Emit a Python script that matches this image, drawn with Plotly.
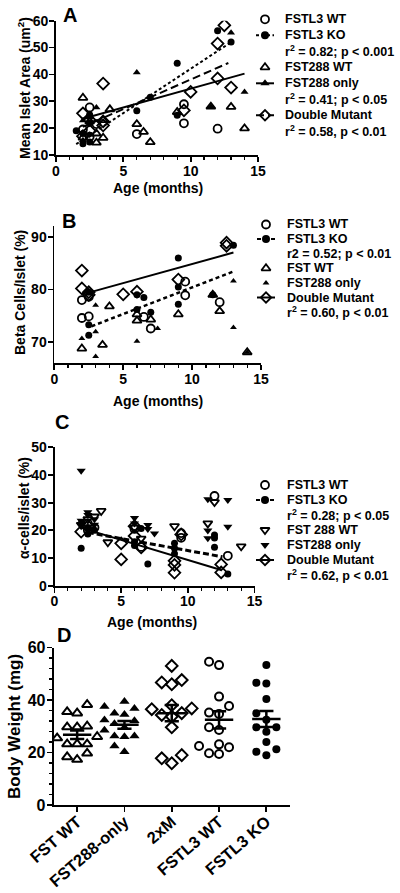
import numpy as np
import plotly.graph_objects as go

FONT = "Liberation Sans, Arial, sans-serif"
W, H = 400, 893

# ---------------- Panel A: mean islet area vs age ----------------
A_fstl3wt_age  = [2.0, 2.5, 2.5, 3.0, 6.0, 9.5, 9.5, 12.0]
A_fstl3wt_area = [19.5, 27.7, 16.8, 21.5, 17.8, 28.9, 21.8, 19.8]
A_fstl3ko_age  = [1.5, 2.0, 2.0, 2.5, 2.5, 2.5, 6.0, 7.0, 9.0, 9.0, 12.0, 13.0]
A_fstl3ko_area = [19.0, 14.2, 18.0, 14.8, 22.0, 25.0, 26.5, 31.5, 44.2, 24.8, 56.3, 52.1]
A_fstwt_age    = [2.0, 2.0, 2.5, 3.0, 3.0, 3.5, 3.5, 4.0, 6.0, 6.5, 7.0, 9.0, 11.5, 13.0, 14.0]
A_fstwt_area   = [31.3, 16.5, 22.5, 18.0, 14.6, 16.4, 23.0, 27.0, 21.5, 18.6, 14.8, 26.0, 28.0, 27.9, 19.9]
A_fst288_age   = [2.0, 2.0, 2.5, 2.5, 3.0, 6.0, 11.5, 13.0, 14.0]
A_fst288_area  = [15.5, 22.8, 24.0, 17.5, 27.7, 40.7, 28.0, 55.5, 33.5]
A_dm_age       = [2.0, 2.0, 2.5, 2.5, 3.5, 3.5, 3.5, 9.5, 10.0, 12.0, 12.0, 12.5, 13.0]
A_dm_area      = [25.5, 17.0, 19.0, 23.0, 36.6, 22.5, 21.0, 26.6, 33.5, 51.5, 38.5, 58.3, 35.1]
# regression fits: (slope, intercept, age from, age to)
A_fit_ko  = (3.3, 9.1, 1.5, 13.0)
A_fit_288 = (1.4, 20.7, 2.0, 14.0)
A_fit_dm  = (2.2, 16.1, 2.0, 12.8)

# ---------------- Panel B: beta cells / islet ----------------
B_fstl3wt_age  = [2.0, 2.0, 2.5, 2.5, 6.5, 7.0, 9.5, 9.5, 12.0]
B_fstl3wt_beta = [78.0, 74.6, 74.9, 78.6, 74.8, 72.6, 81.5, 78.9, 77.6]
B_fstl3ko_age  = [2.5, 2.5, 2.5, 6.0, 6.5, 6.0, 7.0, 9.0, 9.0, 9.0, 11.5, 13.0]
B_fstl3ko_beta = [79.5, 73.3, 71.3, 79.0, 78.5, 76.2, 75.7, 86.0, 80.5, 77.2, 79.0, 88.4]
B_fstwt_age    = [2.0, 3.5, 4.0, 6.0, 6.0, 7.0, 9.0, 11.5, 12.0, 14.0]
B_fstwt_beta   = [68.8, 69.5, 76.8, 75.3, 74.1, 74.3, 75.3, 79.0, 75.9, 68.1]
B_fst288_age   = [2.0, 3.0, 3.0, 3.0, 6.0, 7.5, 11.5, 13.0, 13.0, 14.0]
B_fst288_beta  = [70.7, 77.0, 72.0, 67.3, 70.2, 72.6, 79.0, 81.6, 72.8, 68.1]
B_dm_age       = [2.0, 2.0, 2.5, 2.5, 5.0, 6.0, 9.0, 12.5, 12.5]
B_dm_beta      = [83.6, 80.2, 79.5, 79.0, 79.1, 79.6, 81.9, 88.9, 88.3]
B_fit_dm = (0.724, 77.6, 2.5, 13.0)
B_fit_ko = (1.01, 70.3, 2.7, 13.0)

# ---------------- Panel C: alpha cells / islet ----------------
C_fstl3wt_age   = [2.5, 2.5, 3.0, 6.0, 6.5, 9.5, 9.5, 12.0, 13.0]
C_fstl3wt_alpha = [22.5, 20.0, 21.0, 20.5, 14.0, 19.0, 17.3, 32.4, 10.8]
C_fstl3ko_age   = [2.0, 2.0, 2.5, 2.5, 3.0, 6.0, 6.0, 6.5, 7.0, 9.0, 9.0, 9.0, 12.0, 12.0, 12.0, 13.0]
C_fstl3ko_alpha = [13.5, 22.5, 18.7, 21.0, 20.0, 15.9, 14.5, 20.7, 7.8, 15.3, 13.5, 11.5, 18.3, 13.9, 17.2, 4.2]
C_fstwt_age     = [2.0, 2.5, 3.0, 3.5, 4.0, 6.0, 6.5, 9.0, 11.5, 12.0, 14.0]
C_fstwt_alpha   = [22.0, 24.0, 25.0, 27.0, 15.7, 21.0, 17.0, 21.5, 22.5, 30.2, 14.2]
C_fst288_age    = [2.0, 2.0, 2.5, 2.5, 3.0, 3.0, 6.0, 6.0, 7.0, 7.0, 7.5, 11.5, 11.5, 11.5, 13.0, 13.0]
C_fst288_alpha  = [41.5, 23.5, 25.5, 26.5, 24.0, 22.0, 24.5, 22.5, 21.9, 20.5, 18.9, 31.2, 19.9, 17.1, 31.0, 21.3]
C_dm_age        = [2.0, 2.5, 5.0, 5.0, 6.0, 6.0, 6.5, 9.0, 9.0, 9.0, 9.5, 12.5, 12.5]
C_dm_alpha      = [19.5, 21.5, 15.3, 9.5, 21.5, 18.0, 13.8, 9.0, 7.5, 4.7, 18.5, 7.7, 4.8]
C_fit_dm = (-1.45, 23.8, 2.0, 12.5)
C_fit_ko = (-0.87, 21.4, 2.5, 12.6)

# ---------------- Panel D: body weight ----------------
D_groups = ["FST WT", "FST288-only", "2xM", "FSTL3 WT", "FSTL3 KO"]
D_fstwt    = [38.2, 35.5, 35.0, 30.0, 29.7, 29.7, 26.5, 25.5, 26.0, 23.2, 23.2, 23.2, 19.7, 18.3, 17.3]
D_fst288   = [39.4, 37.5, 36.8, 35.0, 34.5, 32.4, 32.1, 31.0, 29.5, 28.5, 26.3, 26.3, 26.0, 22.5, 20.3]
D_2xm      = [53.0, 47.6, 46.7, 46.0, 38.0, 36.8, 36.5, 35.0, 33.7, 34.3, 29.6, 19.0, 17.8, 15.9]
D_fstl3wt  = [54.6, 53.3, 41.3, 37.7, 35.2, 34.7, 28.6, 29.6, 23.1, 22.0, 22.5, 19.4, 19.7]
D_fstl3ko  = [53.3, 46.3, 46.6, 40.4, 35.0, 32.5, 29.6, 29.6, 27.9, 24.0, 21.2, 20.3, 19.0]
D_values = [D_fstwt, D_fst288, D_2xm, D_fstl3wt, D_fstl3ko]
D_symbols = ["triangle-up-open", "triangle-up", "diamond-open", "circle-open", "circle"]

# ---------------- layout geometry (pixels) ----------------
def xd(a, b):
    return [a / W, b / W]

def yd(top, bottom):
    return [1 - bottom / H, 1 - top / H]

def P(x, y):
    return x / W, 1 - y / H

fig = go.Figure()

def axis(domain, rng, dtick, anchor, size=14, minor=None, **kw):
    d = dict(domain=domain, range=rng, dtick=dtick, tick0=0, anchor=anchor,
             showline=True, linecolor="black", linewidth=1.8, automargin=False,
             ticks="outside", ticklen=5, tickwidth=1.8, tickcolor="black",
             showgrid=False, zeroline=False, fixedrange=True,
             tickfont=dict(family=FONT, size=size, color="black", weight="bold"))
    if minor:
        d["minor"] = minor
    d.update(kw)
    return d

MINOR_X = dict(dtick=1, ticks="outside", ticklen=3, tickwidth=1.3, tickcolor="black", showgrid=False)

def pts(xs, ys, sym, size, xa, ya, lw=1.8):
    opened = sym.endswith("-open")
    fig.add_trace(go.Scatter(
        x=xs, y=ys, mode="markers", xaxis=xa, yaxis=ya, showlegend=False, hoverinfo="skip",
        marker=dict(symbol=sym, size=size, color="black",
                    line=dict(color="black", width=lw if opened else 0))))

def fitline(fit, dash, width, xa, ya):
    s, b, x0, x1 = fit
    xs = np.array([x0, x1])
    fig.add_trace(go.Scatter(x=xs, y=s * xs + b, mode="lines", xaxis=xa, yaxis=ya,
                             showlegend=False, hoverinfo="skip",
                             line=dict(color="black", width=width, dash=dash)))

DOT_A = "3px,2.5px"
DASH_A = "8px,4px"
DOT_B = "4px,3px"
DASH_C = "6px,3px"

# Panel A
pts(A_fstl3wt_age, A_fstl3wt_area, "circle-open", 8, "x", "y")
pts(A_fstl3ko_age, A_fstl3ko_area, "circle", 7, "x", "y")
pts(A_fstwt_age, A_fstwt_area, "triangle-up-open", 8, "x", "y")
pts(A_fst288_age, A_fst288_area, "triangle-up", 7, "x", "y")
pts(A_dm_age, A_dm_area, "diamond-open", 9, "x", "y")
fitline(A_fit_ko, DOT_A, 2, "x", "y")
fitline(A_fit_288, "solid", 2, "x", "y")
fitline(A_fit_dm, DASH_A, 2, "x", "y")

# Panel B
pts(B_fstl3wt_age, B_fstl3wt_beta, "circle-open", 8, "x2", "y2")
pts(B_fstl3ko_age, B_fstl3ko_beta, "circle", 7, "x2", "y2")
pts(B_fstwt_age, B_fstwt_beta, "triangle-up-open", 8, "x2", "y2")
pts(B_fst288_age, B_fst288_beta, "triangle-up", 6, "x2", "y2")
pts(B_dm_age, B_dm_beta, "diamond-open", 9, "x2", "y2")
fitline(B_fit_dm, "solid", 2, "x2", "y2")
fitline(B_fit_ko, DOT_B, 2.5, "x2", "y2")

# Panel C
pts(C_fstl3wt_age, C_fstl3wt_alpha, "circle-open", 8, "x3", "y3")
pts(C_fstl3ko_age, C_fstl3ko_alpha, "circle", 7, "x3", "y3")
pts(C_fstwt_age, C_fstwt_alpha, "triangle-down-open", 8, "x3", "y3")
pts(C_fst288_age, C_fst288_alpha, "triangle-down", 8, "x3", "y3")
pts(C_dm_age, C_dm_alpha, "diamond-open", 9, "x3", "y3")
fitline(C_fit_dm, "solid", 2, "x3", "y3")
fitline(C_fit_ko, DASH_C, 3, "x3", "y3")

# Panel D geometry
D_X = (53.5, 290.0)
D_Y = (647.5, 805.0)
D_RX = (-0.5, 4.5)
D_RY = (0, 60)
px_per_cat = (D_X[1] - D_X[0]) / (D_RX[1] - D_RX[0])
px_per_unit = (D_Y[1] - D_Y[0]) / (D_RY[1] - D_RY[0])

def swarm(vals, center, step=10.0, mind=9.0):
    placed = []
    xs = [0.0] * len(vals)
    for i in np.argsort(vals):
        yv = vals[i] * px_per_unit
        for k in [0, -1, 1, -2, 2, -3, 3]:
            xv = k * step
            if all(np.hypot(xv - a, yv - b) >= mind for a, b in placed):
                break
        placed.append((xv, yv))
        xs[i] = center + xv / px_per_cat
    return xs

for gi, (vals, sym) in enumerate(zip(D_values, D_symbols)):
    xs = swarm(vals, gi)
    pts(xs, vals, sym, 8 if "circle" in sym else 9, "x4", "y4", lw=2)
    m = float(np.mean(vals))
    sem = float(np.std(vals, ddof=1) / np.sqrt(len(vals)))
    for xx, yy in [([gi - 0.3, gi + 0.3], [m, m]),
                   ([gi, gi], [m - sem, m + sem]),
                   ([gi - 0.15, gi + 0.15], [m - sem, m - sem]),
                   ([gi - 0.15, gi + 0.15], [m + sem, m + sem])]:
        fig.add_trace(go.Scatter(x=xx, y=yy, mode="lines", xaxis="x4", yaxis="y4",
                                 showlegend=False, hoverinfo="skip",
                                 line=dict(color="black", width=2.5)))

# ---------------- legend keys (drawn on a pixel overlay) ----------------
LEG_A = [("FSTL3 WT", "circle-open", None), ("FSTL3 KO", "circle", DOT_A),
         ("r<sup>2</sup> = 0.82; p < 0.001", None, None),
         ("FST288 WT", "triangle-up-open", None), ("FST288 only", "triangle-up", "solid"),
         ("r<sup>2</sup> = 0.41; p < 0.05", None, None),
         ("Double Mutant", "diamond-open", DASH_A), ("r<sup>2</sup> = 0.58, p < 0.01", None, None)]
LEG_B = [("FSTL3 WT", "circle-open", None), ("FSTL3 KO", "circle", DOT_B),
         ("r2 = 0.52; p < 0.01", None, None),
         ("FST WT", "triangle-up-open", None), ("FST288 only", "triangle-up", None),
         ("Double Mutant", "diamond-open", "solid"), ("r<sup>2</sup> = 0.60, p < 0.01", None, None)]
LEG_C = [("FSTL3 WT", "circle-open", None), ("FSTL3 KO", "circle", DOT_B),
         ("r<sup>2</sup> = 0.28; p < 0.05", None, None),
         ("FST 288 WT", "triangle-down-open", None), ("FST288 only", "triangle-down", None),
         ("Double Mutant", "diamond-open", "solid"), ("r<sup>2</sup> = 0.62, p < 0.01", None, None)]

annotations = []

def legend(spec, top, step, sym_x, text_x):
    for i, (label, sym, dash) in enumerate(spec):
        y = top + i * step
        if dash:
            fig.add_trace(go.Scatter(x=[sym_x - 9, sym_x + 9], y=[y, y], mode="lines",
                                     xaxis="x5", yaxis="y5", showlegend=False, hoverinfo="skip",
                                     line=dict(color="black", width=2, dash=dash)))
        if sym:
            small = sym == "triangle-up" and spec is LEG_B
            fig.add_trace(go.Scatter(x=[sym_x], y=[y], mode="markers", xaxis="x5", yaxis="y5",
                                     showlegend=False, hoverinfo="skip",
                                     marker=dict(symbol=sym, size=6 if small else 8, color="black",
                                                 line=dict(color="black",
                                                           width=1.8 if sym.endswith("open") else 0))))
        ax, ay = P(text_x, y)
        annotations.append(dict(x=ax, y=ay, xref="paper", yref="paper", text=label,
                                showarrow=False, xanchor="left", yanchor="middle",
                                font=dict(family=FONT, size=12.5, color="black", weight="bold")))

legend(LEG_A, 19.3, 16.0, 265, 283)
legend(LEG_B, 224.5, 14.6, 266, 285)
legend(LEG_C, 485.0, 15.0, 265, 285)

def text(x, y, s, size, angle=0):
    ax, ay = P(x, y)
    annotations.append(dict(x=ax, y=ay, xref="paper", yref="paper", text=s, showarrow=False,
                            xanchor="center", yanchor="middle", textangle=angle,
                            font=dict(family=FONT, size=size, color="black", weight="bold")))

# panel letters
text(70, 15, "A", 20)
text(68.5, 221, "B", 20)
text(62, 421.5, "C", 20)
text(64, 635, "D", 20)
# axis titles
text(157.5, 188, "Age (months)", 14)
text(158, 401, "Age (months)", 14)
text(152, 622, "Age (months)", 14)
text(24, 88, "Mean Islet Area (um<sup>2</sup>)", 14, -90)
text(20, 293, "Beta Cells/Islet (%)", 14, -90)
text(24, 508, "α-cells/islet (%)", 14, -90)
text(14, 727, "Body Weight (mg)", 17, -90)

XLAB = dict(ticklabelstandoff=-3)
YLAB = dict(ticklabelstandoff=-2)

fig.update_layout(
    template="none",
    width=W, height=H, autosize=False,
    margin=dict(l=0, r=0, t=0, b=0, pad=0, autoexpand=False),
    paper_bgcolor="white", plot_bgcolor="rgba(0,0,0,0)",
    showlegend=False,
    font=dict(family=FONT, color="black"),
    xaxis=axis(xd(56, 258), [0, 15], 5, "y", minor=MINOR_X, **XLAB),
    yaxis=axis(yd(20.7, 155), [10, 60], 10, "x", **YLAB),
    xaxis2=axis(xd(54.3, 261), [0, 15], 5, "y2", minor=MINOR_X, **XLAB),
    yaxis2=axis(yd(226.3, 363.3), [66, 92], 10, "x2", tick0=70, **YLAB),
    xaxis3=axis(xd(54.5, 254.5), [0, 15], 5, "y3", minor=MINOR_X, **XLAB),
    yaxis3=axis(yd(447.3, 585.7), [0, 50], 10, "x3", **YLAB),
    xaxis4=axis(xd(*D_X), list(D_RX), 1, "y4", size=16.5,
                tickmode="array", tickvals=list(range(len(D_groups))), ticktext=D_groups,
                tickangle=-41, ticklabelstandoff=-6),
    yaxis4=axis(yd(*D_Y), list(D_RY), 20, "x4", size=16,
                minor=dict(dtick=4, ticks="outside", ticklen=3, tickwidth=1.3,
                           tickcolor="black", showgrid=False), **YLAB),
    xaxis5=dict(domain=[0, 1], range=[0, W], visible=False, fixedrange=True, anchor="y5",
                automargin=False),
    yaxis5=dict(domain=[0, 1], range=[H, 0], visible=False, fixedrange=True, anchor="x5",
                automargin=False),
    annotations=annotations,
)

fig.write_html("out.html", config={"displayModeBar": False, "staticPlot": True},
               post_script="document.body.style.margin='0px';document.body.style.padding='0px';")
